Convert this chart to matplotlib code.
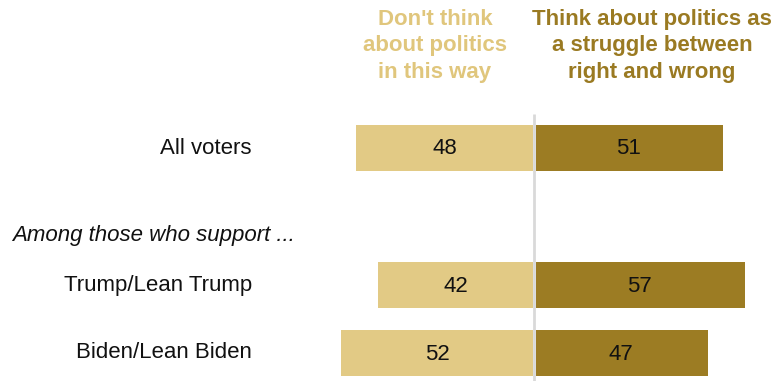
import matplotlib
matplotlib.use("Agg")
import matplotlib.pyplot as plt

# Survey shares (%)
groups = ["All voters", "Trump/Lean Trump", "Biden/Lean Biden"]
dont_think = [48, 42, 52]
think_struggle = [51, 57, 47]

header_left = "Don't think\nabout politics\nin this way"
header_right = "Think about politics as\na struggle between\nright and wrong"
subhead = "Among those who support ..."

light = "#E2CA85"
dark = "#9C7C23"
light_text = "#E0C67C"
dark_text = "#9A7A22"

W, H, DPI = 777, 381, 100
fig = plt.figure(figsize=(W / DPI, H / DPI), dpi=DPI)
ax = fig.add_axes([0, 0, 1, 1])

# Horizontal layout: 1 percentage point ~ 3.71 px, zero line at x=534 px
scale = 3.71
center_px = 534
ax.set_xlim(-center_px / scale, (W - center_px) / scale)
ax.set_ylim(H, 0)
ax.axis("off")

row_y = [148, 285, 353]
bar_h = 46
gap = 1.5 / scale

label_font = ["Liberation Sans", "DejaVu Sans"]
head_font = ["Liberation Sans Narrow", "Liberation Sans", "DejaVu Sans"]

for y, g, a, b in zip(row_y, groups, dont_think, think_struggle):
    ax.barh(y, -a + gap, left=-gap, height=bar_h, color=light, edgecolor="none")
    ax.barh(y, b - gap, left=gap, height=bar_h, color=dark, edgecolor="none")
    ax.text(-a / 2, y + 1, f"{a}", ha="center", va="center", fontsize=16,
            color="#111111", family=label_font)
    ax.text(b / 2, y + 1, f"{b}", ha="center", va="center", fontsize=16,
            color="#111111", family=label_font)
    ax.text(-(center_px - 252) / scale, y, g, ha="right", va="center",
            fontsize=16, color="#111111", family=label_font)

ax.text(-(center_px - 12) / scale, 235, subhead, ha="left", va="center",
        fontsize=16, style="italic", color="#111111", family=label_font)

# Zero line
ax.plot([0, 0], [114, H], color="#D9D9D9", lw=2, zorder=3, solid_capstyle="butt")

# Column headers
ax.text(-(center_px - 435) / scale, 46, header_left, ha="center", va="center",
        fontsize=16, fontweight="bold", color=light_text, family=head_font,
        linespacing=1.32)
ax.text((652 - center_px) / scale, 46, header_right, ha="center", va="center",
        fontsize=16, fontweight="bold", color=dark_text, family=head_font,
        linespacing=1.32)

fig.savefig("out.png", dpi=DPI)
